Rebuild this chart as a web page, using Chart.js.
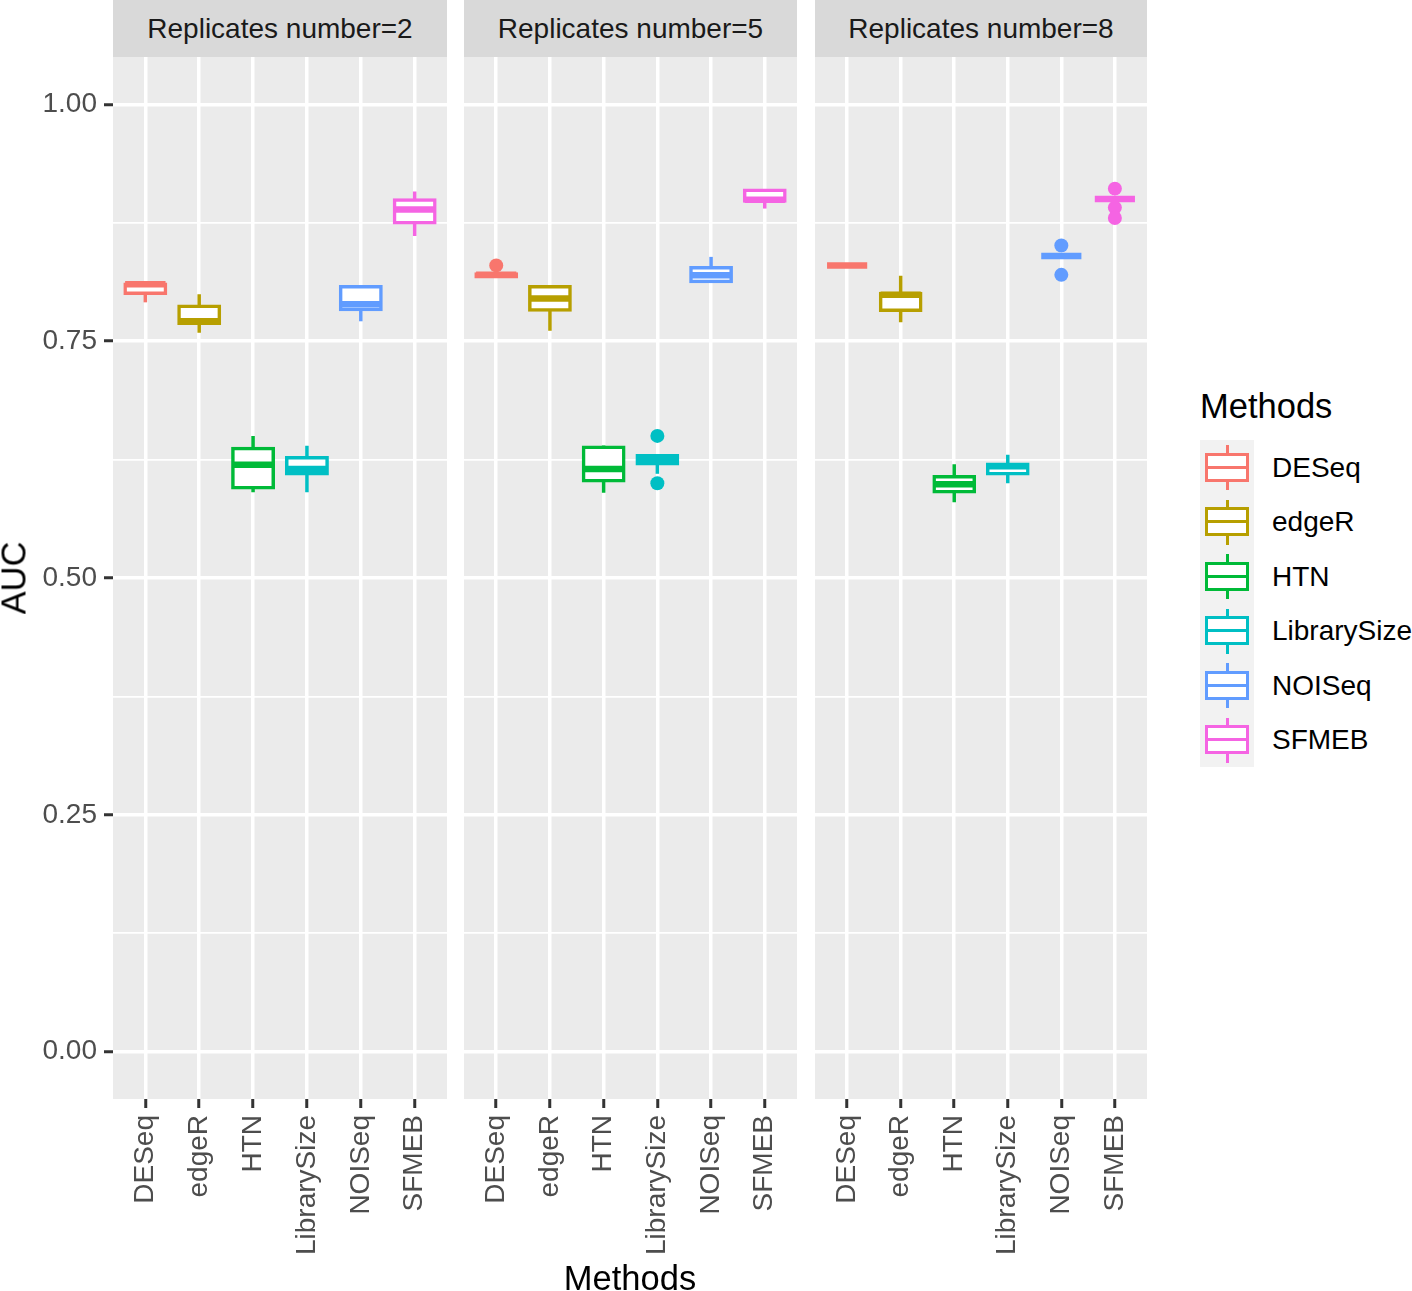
<!DOCTYPE html>
<html>
<head>
<meta charset="utf-8">
<script src="https://cdn.jsdelivr.net/npm/chart.js@4.4.1/dist/chart.umd.min.js"></script>
<style>
body { margin: 0; background: #fff; font-family: "Liberation Sans", Arial, sans-serif; }
#fig { position: relative; width: 1412px; height: 1291px; overflow: hidden; background: #fff; }
.strip { position: absolute; top: 0; height: 57px; background: #D9D9D9; color: #1A1A1A; font-size: 28px; line-height: 57px; text-align: center; white-space: nowrap; }
.panel { position: absolute; top: 57px; }
.title { position: absolute; font-size: 34.5px; color: #000; white-space: nowrap; transform: translate(-50%, -50%); }
#legendKeys { position: absolute; left: 1200px; top: 440px; width: 54px; height: 327px; background: #F2F2F2; }
.row { position: absolute; left: 0; width: 54px; height: 54.5px; }
.whisk { position: absolute; left: 25.5px; width: 3px; top: 5px; height: 45px; }
.kbox { position: absolute; left: 5px; top: 12.5px; width: 44px; height: 29px; box-sizing: border-box; border: 3px solid; background: #fff; }
.kmed { position: absolute; left: 5px; width: 44px; top: 25.5px; height: 3px; }
.klab { position: absolute; left: 1272px; font-size: 28px; color: #000; transform: translateY(-50%); white-space: nowrap; }
</style>
</head>
<body>
<div id="fig">
  <div class="strip" style="left:113px;width:334px" id="s0"></div>
  <div class="strip" style="left:464px;width:333px" id="s1"></div>
  <div class="strip" style="left:815px;width:332px" id="s2"></div>
  <div class="panel" style="left:0px"><canvas id="p0" width="447" height="1203"></canvas></div>
  <div class="panel" style="left:464px"><canvas id="p1" width="333" height="1203"></canvas></div>
  <div class="panel" style="left:815px"><canvas id="p2" width="332" height="1203"></canvas></div>
  <div class="title" style="left:14px;top:578px;transform:translate(-50%,-50%) rotate(-90deg)">AUC</div>
  <div class="title" style="left:630px;top:1278px">Methods</div>
  <div class="title" style="left:1200px;top:406px;transform:translateY(-50%)">Methods</div>
  <div id="legendKeys"></div>
</div>
<script>
const methods = ['DESeq', 'edgeR', 'HTN', 'LibrarySize', 'NOISeq', 'SFMEB'];
const panelTitles = ['Replicates number=2', 'Replicates number=5', 'Replicates number=8'];
const yBreaks = [0, 0.25, 0.5, 0.75, 1];
const yMinorBreaks = [0.125, 0.375, 0.625, 0.875];

// per method: [min, q1, median, q3, max]
const rep2Stats = [
    [0.791, 0.8005, 0.810, 0.810, 0.810],
    [0.759, 0.769, 0.771, 0.787, 0.7995],
    [0.5905, 0.5954, 0.6196, 0.6368, 0.650],
    [0.5905, 0.610, 0.615, 0.627, 0.6396],
    [0.771, 0.7835, 0.789, 0.8075, 0.8075],
    [0.861, 0.875, 0.889, 0.899, 0.908]
];
const rep2Outliers = [[], [], [], [], [], []];

const rep5Stats = [
    [0.818, 0.818, 0.820, 0.821, 0.821],
    [0.761, 0.783, 0.795, 0.8075, 0.8075],
    [0.590, 0.6027, 0.615, 0.638, 0.640],
    [0.610, 0.6205, 0.625, 0.629, 0.629],
    [0.813, 0.813, 0.8196, 0.8275, 0.839],
    [0.890, 0.898, 0.8994, 0.9094, 0.9094]
];
const rep5Outliers = [[0.830], [], [], [0.650, 0.600], [], []];

const rep8Stats = [
    [0.830, 0.830, 0.830, 0.830, 0.830],
    [0.770, 0.7826, 0.799, 0.8004, 0.819],
    [0.580, 0.591, 0.599, 0.607, 0.620],
    [0.600, 0.610, 0.618, 0.620, 0.630],
    [0.840, 0.840, 0.840, 0.840, 0.840],
    [0.900, 0.900, 0.900, 0.900, 0.900]
];
const rep8Outliers = [[], [], [], [], [0.851, 0.820], [0.911, 0.891, 0.880]];

const methodColors = ['#F8766D', '#B79F00', '#00BA38', '#00BFC4', '#619CFF', '#F564E3'];
const fontFamily = '"Liberation Sans", Arial, sans-serif';

function isMajor(v){
    return yBreaks.some(b => Math.abs(b - v) < 1e-9);
}

// grey panel background
const panelBg = {
    id: 'panelBg',
    beforeDraw(chart){
        let a = chart.chartArea;
        let c = chart.ctx;
        c.save();
        c.fillStyle = '#EBEBEB';
        c.fillRect(a.left, a.top, a.right - a.left, a.bottom - a.top);
        c.restore();
    }
};

// whiskers + medians on top of the floating bars
const boxExtras = {
    id: 'boxExtras',
    afterDatasetsDraw(chart){
        let stats = chart.data.datasets[0].stats;
        let meta = chart.getDatasetMeta(0);
        let xs = chart.scales.x, ys = chart.scales.y;
        let c = chart.ctx;
        c.save();
        c.lineCap = 'butt';
        stats.forEach((s, i) => {
            let x = xs.getPixelForValue(i + 1);
            let half = meta.data[i].width / 2;
            c.strokeStyle = methodColors[i];
            c.lineWidth = 3.5;
            c.beginPath();
            c.moveTo(x, ys.getPixelForValue(s[3]));
            c.lineTo(x, ys.getPixelForValue(s[4]));
            c.moveTo(x, ys.getPixelForValue(s[1]));
            c.lineTo(x, ys.getPixelForValue(s[0]));
            c.stroke();
            c.lineWidth = 6.5;
            let my = ys.getPixelForValue(s[2]);
            c.beginPath();
            c.moveTo(x - half, my);
            c.lineTo(x + half, my);
            c.stroke();
        });
        c.restore();
    }
};

function makePanel(canvas, stats, outliers, first){
    let boxData = stats.map((s, i) => ({x: i + 1, y: [s[1], s[3]]}));
    let outData = [];
    let outColors = [];
    outliers.forEach((vals, i) => {
        vals.forEach(v => {
            outData.push({x: i + 1, y: v});
            outColors.push(methodColors[i]);
        });
    });

    return new Chart(canvas, {
        type: 'bar',
        data: {
            datasets: [{
                type: 'bar',
                data: boxData,
                stats: stats,
                backgroundColor: '#FFFFFF',
                borderColor: methodColors,
                borderWidth: 3.5,
                borderSkipped: false,
                inflateAmount: 1.75,
                categoryPercentage: 1,
                barPercentage: 0.75
            }, {
                type: 'scatter',
                data: outData,
                pointRadius: 7,
                pointBorderWidth: 0,
                pointBackgroundColor: outColors,
                pointBorderColor: outColors
            }]
        },
        options: {
            responsive: false,
            animation: false,
            devicePixelRatio: 1,
            layout: {padding: 0, autoPadding: false},
            plugins: {
                legend: {display: false},
                tooltip: {enabled: false},
                title: {display: false}
            },
            scales: {
                x: {
                    type: 'linear',
                    min: 0.4,
                    max: 6.6,
                    offset: false,
                    afterBuildTicks: s => { s.ticks = methods.map((m, i) => ({value: i + 1})); },
                    afterFit: s => {
                        s.height = 161;
                        s.paddingLeft = 0; s.paddingRight = 0;
                    },
                    border: {display: false},
                    grid: {
                        offset: false,
                        color: '#FFFFFF',
                        lineWidth: 3.5,
                        tickColor: '#333333',
                        tickLength: 9,
                        tickWidth: 3
                    },
                    ticks: {
                        autoSkip: false,
                        minRotation: 90,
                        maxRotation: 90,
                        padding: 7,
                        color: '#4D4D4D',
                        font: {size: 28, family: fontFamily},
                        callback: (v, idx) => methods[idx]
                    }
                },
                y: {
                    type: 'linear',
                    min: -0.05,
                    max: 1.05,
                    afterBuildTicks: s => {
                        s.ticks = yBreaks.concat(yMinorBreaks).sort((a, b) => a - b).map(v => ({value: v}));
                    },
                    afterFit: s => {
                        s.width = first ? 113 : 0;
                        s.paddingTop = 0; s.paddingBottom = 0;
                    },
                    border: {display: false},
                    grid: {
                        color: '#FFFFFF',
                        lineWidth: ctx => isMajor(ctx.tick.value) ? 3.5 : 1.75,
                        drawTicks: first,
                        tickColor: ctx => isMajor(ctx.tick.value) ? '#333333' : 'rgba(0,0,0,0)',
                        tickLength: 9,
                        tickWidth: 3
                    },
                    ticks: {
                        display: first,
                        padding: 7,
                        color: '#4D4D4D',
                        font: {size: 28, family: fontFamily},
                        callback: v => isMajor(v) ? v.toFixed(2) : ''
                    }
                }
            }
        },
        plugins: [panelBg, boxExtras]
    });
}

panelTitles.forEach((t, i) => { document.getElementById('s' + i).innerText = t; });

makePanel(document.getElementById('p0'), rep2Stats, rep2Outliers, true);
makePanel(document.getElementById('p1'), rep5Stats, rep5Outliers, false);
makePanel(document.getElementById('p2'), rep8Stats, rep8Outliers, false);

// legend keys
let keys = document.getElementById('legendKeys');
methods.forEach((m, i) => {
    let row = document.createElement('div');
    row.className = 'row';
    row.style.top = (i * 54.5) + 'px';
    let w = document.createElement('div');
    w.className = 'whisk';
    w.style.background = methodColors[i];
    let b = document.createElement('div');
    b.className = 'kbox';
    b.style.borderColor = methodColors[i];
    let md = document.createElement('div');
    md.className = 'kmed';
    md.style.background = methodColors[i];
    row.append(w, b, md);
    keys.append(row);

    let lab = document.createElement('div');
    lab.className = 'klab';
    lab.style.top = (440 + i * 54.5 + 27.5) + 'px';
    lab.innerText = m;
    document.getElementById('fig').append(lab);
});
</script>
</body>
</html>
